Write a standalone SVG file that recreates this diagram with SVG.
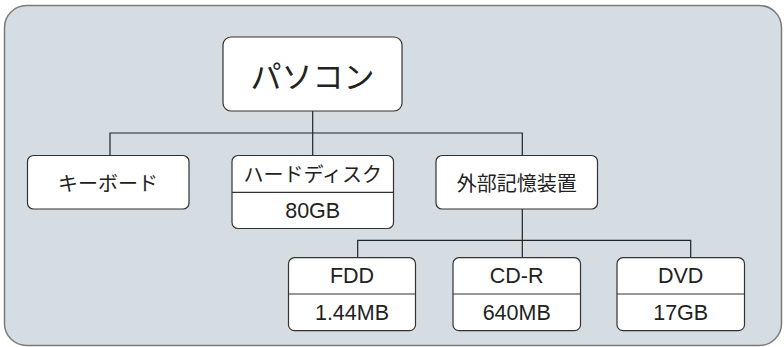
<svg xmlns="http://www.w3.org/2000/svg" width="784" height="347" viewBox="0 0 784 347">
<style>
.bg{fill:#d5dde3;stroke:#7a7a7a;stroke-width:1.5}
.box{fill:#fff;stroke:#333;stroke-width:1.2}
.div{stroke:#333;stroke-width:1.2}
.con{fill:none;stroke:#222;stroke-width:1.2}
text{font-family:"Noto Sans CJK JP","Noto Sans",sans-serif;fill:#222;text-anchor:middle;dominant-baseline:central;font-size:20px}
.big{font-size:31px}
.lat{font-family:"Liberation Sans","Noto Sans CJK JP",sans-serif;font-size:21.5px}
</style>
<rect class="bg" x="4.5" y="5.5" width="777" height="340" rx="22"/>
<g id="connectors">
<path class="con" d="M312.7 111V155M110 155V133H522.3V155"/>
<path class="con" d="M522.3 209V257.7M357.7 257.7V240.3H690.7V257.7"/>
</g>
<g id="pc">
<rect class="box" x="223" y="37" width="179" height="74" rx="8"/>
<text class="big" x="312.5" y="74">パソコン</text>
</g>
<g id="keyboard">
<rect class="box" x="27.5" y="155.5" width="161.5" height="53.5" rx="6"/>
<text x="108" y="182">キーボード</text>
</g>
<g id="hdd">
<rect class="box" x="232" y="155.5" width="161.5" height="73" rx="6"/>
<line class="div" x1="232" y1="192.3" x2="393.5" y2="192.3"/>
<text x="312.7" y="173.5">ハードディスク</text>
<text class="lat" x="312.7" y="210.5">80GB</text>
</g>
<g id="external">
<rect class="box" x="436" y="155.5" width="161.5" height="53.5" rx="6"/>
<text x="516.7" y="182">外部記憶装置</text>
</g>
<g id="fdd">
<rect class="box" x="288.5" y="257.7" width="127" height="73" rx="6"/>
<line class="div" x1="288.5" y1="294" x2="415.5" y2="294"/>
<text class="lat" x="352" y="276">FDD</text>
<text class="lat" x="352" y="312.5">1.44MB</text>
</g>
<g id="cdr">
<rect class="box" x="453" y="257.7" width="127.5" height="73" rx="6"/>
<line class="div" x1="453" y1="294" x2="580.5" y2="294"/>
<text class="lat" x="516.7" y="276">CD-R</text>
<text class="lat" x="516.7" y="312.5">640MB</text>
</g>
<g id="dvd">
<rect class="box" x="617" y="257.7" width="127.5" height="73" rx="6"/>
<line class="div" x1="617" y1="294" x2="744.5" y2="294"/>
<text class="lat" x="680.7" y="276">DVD</text>
<text class="lat" x="680.7" y="312.5">17GB</text>
</g>
</svg>
